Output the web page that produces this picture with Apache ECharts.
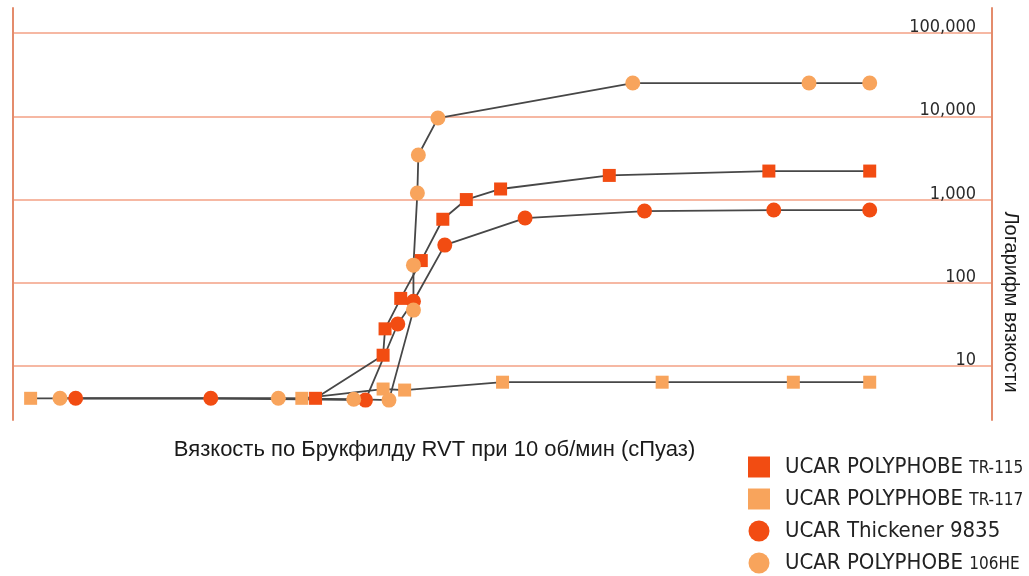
<!DOCTYPE html>
<html>
<head>
<meta charset="utf-8">
<title>Вязкость по Брукфилду</title>
<script src="https://cdn.jsdelivr.net/npm/echarts@6/dist/echarts.min.js"></script>
<style>
  html, body { margin: 0; padding: 0; background: #ffffff; }
  #chart { width: 1029px; height: 576px; }
</style>
</head>
<body>
<div id="chart"></div>
<script>
// Thickener loading (relative units, 0–100) and Brookfield RVT viscosity at 10 rpm (cP)
const xTR115 = [30.9, 37.8, 38.0, 39.6, 41.7, 43.9, 46.3, 49.8, 60.9, 77.2, 87.5];
const vTR115 = [4.1, 13.5, 28, 65, 185, 580, 1000, 1340, 1950, 2200, 2200];

const xTR117 = [1.8, 29.5, 37.8, 40.0, 50.0, 66.3, 79.7, 87.5];
const vTR117 = [4.1, 4.1, 5.3, 5.15, 6.4, 6.4, 6.4, 6.4];

const x9835 = [6.4, 20.2, 36.0, 39.3, 40.9, 44.1, 52.3, 64.5, 77.7, 87.5];
const v9835 = [4.1, 4.1, 3.9, 32, 60, 284, 600, 728, 748, 748];

const x106HE = [4.8, 27.1, 34.8, 38.4, 40.9, 40.9, 41.3, 41.4, 43.4, 63.3, 81.3, 87.5];
const v106HE = [4.1, 4.1, 4.0, 3.9, 47, 163, 1200, 3430, 9530, 25100, 25100, 25100];

const seriesNames = [
  'UCAR POLYPHOBE TR-115',
  'UCAR POLYPHOBE TR-117',
  'UCAR Thickener 9835',
  'UCAR POLYPHOBE 106HE'
];

const yMin = 2.25;
const yMax = 200000;

const xTitle = 'Вязкость по Брукфилду RVT при 10 об/мин (сПуаз)';
const yTitle = 'Логарифм вязкости';

const DARK = '#F24C12';
const LIGHT = '#F8A45C';
const GRID = '#F3A084';
const EDGE = '#E48C6C';
const NARROW = '"Liberation Sans Narrow", "DejaVu Sans Condensed", "Liberation Sans", sans-serif';

function pairs(xs, vs) {
  return xs.map((x, i) => [x, vs[i]]);
}

function makeSeries(name, xs, vs, symbol, color, size) {
  return {
    name: name,
    type: 'line',
    yAxisIndex: 1,
    data: pairs(xs, vs),
    symbol: symbol,
    symbolSize: size,
    showAllSymbol: true,
    itemStyle: { color: color, opacity: 1 },
    lineStyle: { color: '#474747', width: 1.8 },
    emphasis: { disabled: true },
    z: 2
  };
}

const chart = echarts.init(document.getElementById('chart'), null, { renderer: 'canvas' });

const transparent = 'rgba(0,0,0,0)';

chart.setOption({
  animation: false,
  backgroundColor: '#ffffff',
  grid: { left: 13, right: 32, top: 8, bottom: 156 },
  xAxis: {
    type: 'value',
    min: 0,
    max: 100,
    axisLine: { show: false },
    axisTick: { show: false },
    axisLabel: { show: false },
    splitLine: { show: false },
    name: xTitle,
    nameLocation: 'middle',
    nameGap: 19,
    nameTextStyle: {
      fontFamily: '"Liberation Sans", Arial, sans-serif',
      fontSize: 22,
      color: '#1a1a1a',
      padding: [0, 136, 0, 0]
    }
  },
  yAxis: [
    {
      type: 'log',
      position: 'left',
      min: yMin,
      max: yMax,
      axisLine: { show: true, lineStyle: { color: EDGE, width: 2 } },
      axisTick: { show: false },
      axisLabel: { show: false },
      splitLine: { show: false }
    },
    {
      type: 'log',
      position: 'right',
      min: yMin,
      max: yMax,
      axisLine: { show: true, lineStyle: { color: EDGE, width: 2 } },
      axisTick: { show: false },
      axisLabel: {
        inside: true,
        margin: 16,
        showMinLabel: false,
        showMaxLabel: false,
        verticalAlign: 'bottom',
        lineHeight: 11,
        fontFamily: NARROW,
        fontSize: 18,
        color: '#2a2a2a',
        formatter: v => Math.round(v).toLocaleString('en-US')
      },
      splitLine: {
        show: true,
        lineStyle: {
          width: 1.6,
          color: [transparent, GRID, GRID, GRID, GRID, GRID, transparent]
        }
      },
      name: yTitle,
      nameLocation: 'middle',
      nameRotate: -90,
      nameGap: 8,
      nameTextStyle: {
        fontFamily: '"Liberation Sans", Arial, sans-serif',
        fontSize: 20,
        color: '#1a1a1a',
        padding: [0, 0, 0, 176]
      }
    }
  ],
  legend: {
    orient: 'vertical',
    left: 748,
    top: 456,
    height: 120,
    padding: 0,
    itemWidth: 22,
    itemHeight: 21,
    itemGap: 10,
    selectedMode: false,
    data: [
      { name: seriesNames[0], icon: 'rect' },
      { name: seriesNames[1], icon: 'rect' },
      { name: seriesNames[2], icon: 'circle' },
      { name: seriesNames[3], icon: 'circle' }
    ],
    formatter: name => {
      const m = name.match(/^(UCAR POLYPHOBE) (TR-\d+|\d+HE)$/);
      return m ? m[1] + ' {s|' + m[2] + '}' : name;
    },
    textStyle: {
      fontFamily: NARROW,
      fontSize: 22,
      lineHeight: 21,
      color: '#222222',
      padding: [0, 0, 0, 10],
      rich: {
        s: {
          fontFamily: NARROW,
          fontSize: 17,
          lineHeight: 15,
          verticalAlign: 'bottom',
          color: '#222222'
        }
      }
    }
  },
  series: [
    makeSeries(seriesNames[0], xTR115, vTR115, 'rect', DARK, 13),
    makeSeries(seriesNames[1], xTR117, vTR117, 'rect', LIGHT, 13),
    makeSeries(seriesNames[2], x9835, v9835, 'circle', DARK, 15),
    makeSeries(seriesNames[3], x106HE, v106HE, 'circle', LIGHT, 15)
  ]
});
</script>
</body>
</html>
